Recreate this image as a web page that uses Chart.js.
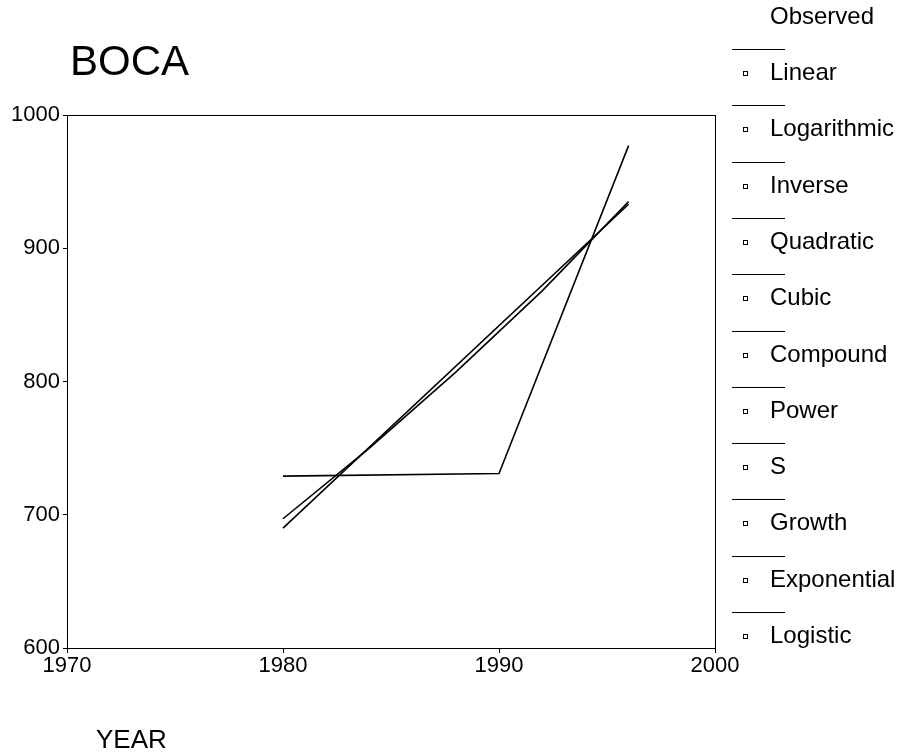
<!DOCTYPE html>
<html>
<head>
<meta charset="utf-8">
<title>BOCA</title>
<script src="https://cdn.jsdelivr.net/npm/chart.js@4.4.1/dist/chart.umd.min.js"></script>
<style>
  html, body { margin: 0; padding: 0; background: #fff; }
  #wrap { width: 900px; height: 756px; }
</style>
</head>
<body>
<div id="wrap"><canvas id="chart" width="900" height="756"></canvas></div>
<script>
// Series: three-point polyline through the yearly values
const obsYears = [1980, 1990, 1996];
const obsValues = [729, 731, 977];

// Straight linear fit
const linYears = [1980, 1996];
const linValues = [690, 933];

// Gently curved growth fit
const curveYears = [1980, 1984, 1988, 1992, 1996];
const curveValues = [697, 750, 807, 868, 935];

// Axis ticks
const xTicks = [1970, 1980, 1990, 2000];
const yTicks = [600, 700, 800, 900, 1000];

// Legend text
const legendHeader = 'Observed';
const legendLabels = ['Linear', 'Logarithmic', 'Inverse', 'Quadratic', 'Cubic',
  'Compound', 'Power', 'S', 'Growth', 'Exponential', 'Logistic'];

const FONT = '"Liberation Sans", Arial, Helvetica, sans-serif';

const toPoints = (xs, ys) => xs.map((x, i) => ({ x: x, y: ys[i] }));

const lineStyle = {
  borderColor: '#000',
  borderWidth: 1.6,
  pointRadius: 0,
  fill: false,
  tension: 0
};

// Frame, title, axis caption and the side legend
const decorations = {
  id: 'decorations',
  afterDraw(chart) {
    const ctx = chart.ctx;
    const a = chart.chartArea;
    ctx.save();
    ctx.strokeStyle = '#000';
    ctx.lineWidth = 1;
    ctx.strokeRect(Math.round(a.left) + 0.5, Math.round(a.top) + 0.5,
      Math.round(a.right - a.left), Math.round(a.bottom - a.top));

    ctx.fillStyle = '#000';
    ctx.textAlign = 'left';
    ctx.textBaseline = 'alphabetic';
    ctx.font = '42px ' + FONT;
    ctx.fillText('BOCA', 70, 75);

    ctx.font = '26px ' + FONT;
    ctx.fillText('YEAR', 96, 748);

    // legend
    ctx.font = '24px ' + FONT;
    ctx.textBaseline = 'middle';
    ctx.fillText(legendHeader, 770, 17);
    legendLabels.forEach((label, i) => {
      const ly = Math.round(49 + i * 56.3) + 0.5;
      ctx.beginPath();
      ctx.moveTo(732, ly);
      ctx.lineTo(785, ly);
      ctx.lineWidth = 1.2;
      ctx.stroke();
      const cy = ly + 24;
      ctx.lineWidth = 1;
      ctx.strokeRect(743.5, Math.round(cy) - 2.5, 4, 4);
      ctx.fillText(label, 770, cy);
    });
    ctx.restore();
  }
};

new Chart(document.getElementById('chart'), {
  type: 'line',
  data: {
    datasets: [
      Object.assign({ label: 'Observed', data: toPoints(obsYears, obsValues) }, lineStyle),
      Object.assign({ label: 'Linear', data: toPoints(linYears, linValues) }, lineStyle),
      Object.assign({ label: 'Compound', data: toPoints(curveYears, curveValues) }, lineStyle)
    ]
  },
  options: {
    responsive: false,
    animation: false,
    devicePixelRatio: 1,
    layout: { padding: { left: 0, right: 185, top: 115, bottom: 68 } },
    plugins: {
      legend: { display: false },
      tooltip: { enabled: false },
      title: { display: false }
    },
    scales: {
      x: {
        type: 'linear',
        min: xTicks[0],
        max: xTicks[xTicks.length - 1],
        afterBuildTicks(scale) { scale.ticks = xTicks.map(v => ({ value: v })); },
        afterFit(scale) { scale.height = 40; },
        ticks: {
          color: '#000',
          font: { family: FONT, size: 22 },
          padding: 0,
          maxRotation: 0,
          callback: v => String(v)
        },
        grid: { drawOnChartArea: false, drawTicks: true, tickLength: 5, color: '#000' },
        border: { display: true, color: '#000', width: 1 }
      },
      y: {
        type: 'linear',
        min: yTicks[0],
        max: yTicks[yTicks.length - 1],
        afterBuildTicks(scale) { scale.ticks = yTicks.map(v => ({ value: v })); },
        afterFit(scale) { scale.width = 67; },
        ticks: {
          color: '#000',
          font: { family: FONT, size: 22 },
          padding: 3,
          callback: v => String(v)
        },
        grid: { drawOnChartArea: false, drawTicks: true, tickLength: 4, color: '#000' },
        border: { display: true, color: '#000', width: 1 }
      }
    }
  },
  plugins: [decorations]
});
</script>
</body>
</html>
